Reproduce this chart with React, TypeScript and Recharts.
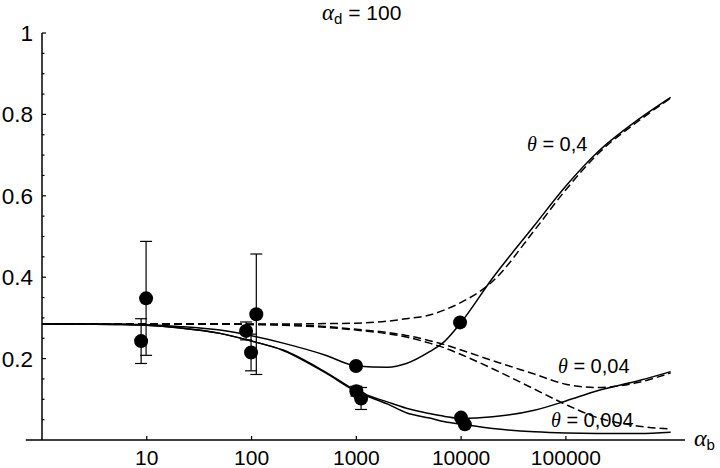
import React from 'react';
import { ComposedChart, Line, Scatter, XAxis, YAxis, ErrorBar, ReferenceLine } from 'recharts';

// sample positions along alpha_b
const xs = [1, 2, 5, 10, 20, 50, 100, 200, 500, 1000, 2000, 3000, 5000, 7000, 10000, 20000, 50000, 100000, 200000, 500000, 1000000];
// solid model curves
const solid04 = [0.285, 0.285, 0.285, 0.283, 0.279, 0.27, 0.256, 0.238, 0.209, 0.182, 0.179, 0.188, 0.217, 0.243, 0.289, 0.398, 0.527, 0.624, 0.707, 0.789, 0.842];
const solid004 = [0.285, 0.285, 0.284, 0.282, 0.276, 0.262, 0.243, 0.221, 0.168, 0.121, 0.093, 0.078, 0.065, 0.058, 0.053, 0.057, 0.073, 0.096, 0.121, 0.146, 0.168];
const solid0004 = [0.285, 0.285, 0.284, 0.282, 0.276, 0.262, 0.243, 0.22, 0.166, 0.119, 0.088, 0.067, 0.054, 0.045, 0.039, 0.028, 0.02, 0.017, 0.016, 0.016, 0.019];
// dashed model curves
const dashed04 = [0.285, 0.285, 0.285, 0.285, 0.285, 0.285, 0.285, 0.285, 0.286, 0.287, 0.292, 0.298, 0.307, 0.32, 0.338, 0.39, 0.515, 0.615, 0.702, 0.785, 0.84];
const dashed004 = [0.285, 0.285, 0.285, 0.285, 0.285, 0.285, 0.284, 0.283, 0.279, 0.272, 0.264, 0.257, 0.244, 0.234, 0.221, 0.195, 0.162, 0.137, 0.129, 0.142, 0.165];
const dashed0004 = [0.285, 0.285, 0.285, 0.285, 0.285, 0.285, 0.284, 0.282, 0.277, 0.27, 0.261, 0.253, 0.238, 0.226, 0.21, 0.175, 0.125, 0.087, 0.055, 0.034, 0.027];

// measured points
const pointX = [9.85, 8.83, 111, 88.6, 98.9, 993, 1000, 1110, 9980, 10860, 9770];
const pointY = [0.348, 0.243, 0.309, 0.268, 0.215, 0.182, 0.12, 0.102, 0.055, 0.0385, 0.289];
const pointErr = [0.14, 0.055, 0.148, 0.022, 0.045, 0, 0.012, 0.027, 0, 0, 0];

const xTicks = [10, 100, 1000, 10000, 100000];
const xTickLabels = ['10', '100', '1000', '10000', '100000'];
const yTicks = [0.05, 0.1, 0.15, 0.2, 0.25, 0.3, 0.35, 0.4, 0.45, 0.5, 0.55, 0.6, 0.65, 0.7, 0.75, 0.8, 0.85, 0.9, 0.95, 1];
const yMajor = [0.2, 0.4, 0.6, 0.8, 1];
const yMajorLabels = ['0.2', '0.4', '0.6', '0.8', '1'];

const curveRows = xs.map((x, i) => ({
  x,
  s1: solid04[i],
  s2: solid004[i],
  s3: solid0004[i],
  d1: dashed04[i],
  d2: dashed004[i],
  d3: dashed0004[i],
}));

const points = pointX.map((x, i) => ({ x, y: pointY[i], err: pointErr[i] }));

const SANS = '"Liberation Sans", Arial, Helvetica, sans-serif';
const SERIF = '"Liberation Serif", "Times New Roman", serif';

const XTick = (props: any) => {
  const { x, y, payload } = props;
  const idx = xTicks.indexOf(payload.value);
  return (
    <g>
      <line x1={x} y1={y} x2={x} y2={y - 4} stroke="#000" strokeWidth={1.2} />
      <text x={x} y={y + 25} textAnchor="middle" fontFamily={SANS} fontSize={21} fill="#000">
        {idx >= 0 ? xTickLabels[idx] : ''}
      </text>
    </g>
  );
};

const YTick = (props: any) => {
  const { x, y, payload } = props;
  const mi = yMajor.findIndex((v) => Math.abs(v - payload.value) < 1e-9);
  const major = mi >= 0;
  return (
    <g>
      <line x1={x} y1={y} x2={x + (major ? 4 : 2.5)} y2={y} stroke="#000" strokeWidth={1.2} />
      {major && (
        <text x={x - 9} y={y + 8} textAnchor="end" fontFamily={SANS} fontSize={22.5} fill="#000">
          {yMajorLabels[mi]}
        </text>
      )}
    </g>
  );
};

const Dot = (props: any) => <circle cx={props.cx} cy={props.cy} r={7} fill="#000" />;

const lineCommon = { type: 'monotone' as const, dot: false, isAnimationActive: false, stroke: '#000', strokeWidth: 1.5, activeDot: false };

export default function App() {
  return (
    <div style={{ position: 'absolute', left: 0, top: 0, width: 720, height: 468, background: '#fff' }}>
      <ComposedChart width={720} height={468} data={curveRows} margin={{ top: 33, right: 35, bottom: 0, left: 0 }}>
        <XAxis
          dataKey="x"
          type="number"
          scale="log"
          domain={[1, 1370000]}
          allowDataOverflow
          ticks={xTicks}
          interval={0}
          height={28}
          tickSize={0}
          tickMargin={0}
          tickLine={false}
          tick={<XTick />}
          axisLine={{ stroke: '#000', strokeWidth: 1.5 }}
        />
        <YAxis
          type="number"
          domain={[0, 1]}
          allowDataOverflow
          ticks={yTicks}
          interval={0}
          width={42}
          tickSize={0}
          tickMargin={0}
          tickLine={false}
          tick={<YTick />}
          axisLine={{ stroke: '#000', strokeWidth: 1.5 }}
        />
        <ReferenceLine segment={[{ x: 0.7, y: 0 }, { x: 1, y: 0 }]} stroke="#000" strokeWidth={1.5} ifOverflow="visible" />
        <Line {...lineCommon} dataKey="d1" strokeDasharray="8 4" />
        <Line {...lineCommon} dataKey="d2" strokeDasharray="8 4" />
        <Line {...lineCommon} dataKey="d3" strokeDasharray="8 4" />
        <Line {...lineCommon} dataKey="s1" />
        <Line {...lineCommon} dataKey="s2" />
        <Line {...lineCommon} dataKey="s3" />
        <Scatter data={points} dataKey="y" shape={<Dot />} isAnimationActive={false}>
          <ErrorBar dataKey="err" direction="y" width={6} stroke="#000" strokeWidth={1.2} />
        </Scatter>
        <text x={322} y={20} fontFamily={SANS} fontSize={21} fill="#000">
          <tspan fontFamily={SERIF} fontStyle="italic" fontSize={23}>α</tspan>
          <tspan fontSize={15} dy={4}>d</tspan>
          <tspan dy={-4}> = 100</tspan>
        </text>
        <text x={694} y={446} fontFamily={SANS} fontSize={20} fill="#000">
          <tspan fontFamily={SERIF} fontStyle="italic" fontSize={24}>α</tspan>
          <tspan fontSize={15} dy={4}>b</tspan>
        </text>
        <text x={527} y={151} fontFamily={SANS} fontSize={20} fill="#000">
          <tspan fontFamily={SERIF} fontStyle="italic">θ</tspan>
          <tspan> = 0,4</tspan>
        </text>
        <text x={558} y={373} fontFamily={SANS} fontSize={20} fill="#000">
          <tspan fontFamily={SERIF} fontStyle="italic">θ</tspan>
          <tspan> = 0,04</tspan>
        </text>
        <text x={551} y={427} fontFamily={SANS} fontSize={20} fill="#000">
          <tspan fontFamily={SERIF} fontStyle="italic">θ</tspan>
          <tspan> = 0,004</tspan>
        </text>
      </ComposedChart>
    </div>
  );
}
